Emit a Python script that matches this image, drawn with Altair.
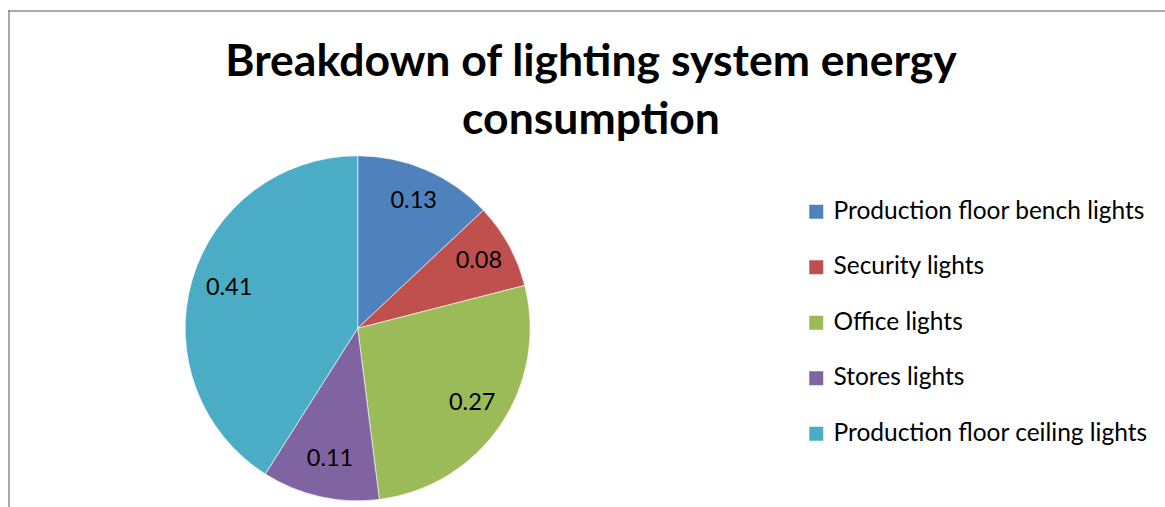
import altair as alt
import pandas as pd

categories = [
    "Production floor bench lights",
    "Security lights",
    "Office lights",
    "Stores lights",
    "Production floor ceiling lights",
]
values = [0.13, 0.08, 0.27, 0.11, 0.41]
colors = ["#4F81BD", "#C0504D", "#9BBB59", "#8064A2", "#4BACC6"]
title_lines = ["Breakdown of lighting system energy", "consumption"]

df = pd.DataFrame({"category": categories, "value": values, "order": list(range(len(values)))})

CX, CY, R = 357.7, 328.3, 172.5
FONT = "Lato"

pie = alt.Chart(df).mark_arc(outerRadius=R, stroke="white", strokeWidth=0.6).encode(
    theta=alt.Theta("value:Q", stack=True),
    order=alt.Order("order:Q"),
    color=alt.Color(
        "category:N",
        scale=alt.Scale(domain=categories, range=colors),
        sort=categories,
        legend=alt.Legend(
            title=None,
            orient="none",
            legendX=804,
            legendY=199.5,
            symbolType="square",
            symbolSize=196,
            symbolStrokeWidth=0,
            labelFontSize=24.5,
            labelFont=FONT,
            labelColor="black",
            labelOffset=5,
            labelLimit=500,
            rowPadding=30.5,
            padding=0,
        ),
    ),
    x=alt.value(CX),
    y=alt.value(CY),
)

labels = alt.Chart(df).mark_text(radius=136, fontSize=23.5, font=FONT, color="black", baseline="middle", align="center").encode(
    theta=alt.Theta("value:Q", stack=True),
    order=alt.Order("order:Q"),
    text=alt.Text("value:Q", format=".2f"),
    x=alt.value(CX + 2),
    y=alt.value(CY - 2),
)

title = alt.Chart(pd.DataFrame({"t": [0]})).mark_text(
    text=title_lines,
    font=FONT,
    fontSize=44.5,
    fontWeight="bold",
    color="black",
    align="center",
    baseline="alphabetic",
    lineHeight=58,
).encode(x=alt.value(591), y=alt.value(76))

border_left = alt.Chart(pd.DataFrame({"t": [0]})).mark_rule(color="#8c8c8c", strokeWidth=1.5).encode(
    x=alt.value(9), y=alt.value(10), y2=alt.value(507)
)
border_top = alt.Chart(pd.DataFrame({"t": [0]})).mark_rule(color="#8c8c8c", strokeWidth=1.5).encode(
    y=alt.value(11), x=alt.value(8), x2=alt.value(1165)
)

chart = alt.layer(border_left, border_top, pie, labels, title).properties(
    width=1165,
    height=507,
    autosize=alt.AutoSizeParams(type="none"),
    padding=0,
    background="white",
).configure_view(stroke=None)

chart.save("out.html", embed_options={"renderer": "svg", "actions": False})
